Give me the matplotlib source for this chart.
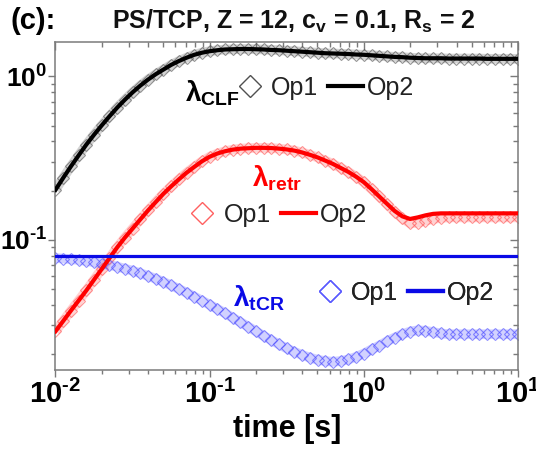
#!/usr/bin/env python3
# -*- coding: utf-8 -*-

import numpy as np
import matplotlib as mpl
import matplotlib.pyplot as plt
from matplotlib.lines import Line2D
from matplotlib.ticker import FuncFormatter, NullFormatter, LogLocator

mpl.rcParams['font.family'] = ['Liberation Sans', 'DejaVu Sans']
mpl.rcParams['mathtext.fontset'] = 'custom'
mpl.rcParams['mathtext.rm'] = 'Liberation Sans:bold'
mpl.rcParams['mathtext.it'] = 'Liberation Sans:italic'
mpl.rcParams['mathtext.bf'] = 'Liberation Sans:bold'

# time grid, 20 points per decade from 1e-2 s to 1e1 s
time = np.logspace(-2, 1, 61)

lam_clf = [0.202, 0.239, 0.281, 0.328, 0.382, 0.439, 0.501, 0.569, 0.643, 0.719,
           0.798, 0.877, 0.955, 1.03, 1.10, 1.175, 1.24, 1.30, 1.355, 1.395,
           1.425, 1.445, 1.46, 1.465, 1.47, 1.47, 1.465, 1.46, 1.45, 1.445,
           1.435, 1.425, 1.415, 1.405, 1.395, 1.385, 1.38, 1.375, 1.37, 1.36,
           1.355, 1.345, 1.335, 1.325, 1.315, 1.31, 1.30, 1.295, 1.29, 1.29,
           1.29, 1.285, 1.285, 1.285, 1.285, 1.285, 1.28, 1.28, 1.28, 1.28,
           1.28]

lam_retr_op1 = [0.0275, 0.0318, 0.0368, 0.0424, 0.0489, 0.0569, 0.0662, 0.0771, 0.0897, 0.103,
                0.117, 0.133, 0.151, 0.170, 0.191, 0.212, 0.234, 0.257, 0.279, 0.302,
                0.322, 0.337, 0.348, 0.356, 0.361, 0.363, 0.365, 0.365, 0.364, 0.361,
                0.357, 0.351, 0.342, 0.331, 0.319, 0.305, 0.291, 0.275, 0.260, 0.243,
                0.225, 0.204, 0.184, 0.165, 0.148, 0.135, 0.126, 0.127, 0.131, 0.134,
                0.136, 0.137, 0.137, 0.137, 0.137, 0.137, 0.137, 0.137, 0.137, 0.137,
                0.137]
lam_retr_op2 = [0.0275, 0.0318, 0.0368, 0.0424, 0.0489, 0.0569, 0.0662, 0.0771, 0.0897, 0.103,
                0.117, 0.133, 0.151, 0.170, 0.191, 0.212, 0.234, 0.257, 0.279, 0.302,
                0.322, 0.337, 0.348, 0.356, 0.361, 0.363, 0.365, 0.365, 0.364, 0.361,
                0.357, 0.351, 0.342, 0.331, 0.319, 0.305, 0.291, 0.275, 0.260, 0.243,
                0.225, 0.204, 0.184, 0.166, 0.150, 0.139, 0.134, 0.137, 0.141, 0.144,
                0.145, 0.145, 0.145, 0.145, 0.145, 0.145, 0.145, 0.145, 0.145, 0.145,
                0.145]

lam_tcr_op1 = [0.0773, 0.0767, 0.0760, 0.0752, 0.0741, 0.0729, 0.0714, 0.0700, 0.0684, 0.0665,
               0.0646, 0.0624, 0.0601, 0.0577, 0.0552, 0.0526, 0.0500, 0.0474, 0.0449, 0.0424,
               0.0400, 0.0377, 0.0355, 0.0333, 0.0313, 0.0294, 0.0275, 0.0258, 0.0243, 0.0229,
               0.0216, 0.0206, 0.0197, 0.0190, 0.0184, 0.0181, 0.0179, 0.0181, 0.0185, 0.0192,
               0.0201, 0.0213, 0.0225, 0.0239, 0.0252, 0.0264, 0.0274, 0.0279, 0.0277, 0.0272,
               0.0267, 0.0264, 0.0264, 0.0264, 0.0264, 0.0264, 0.0264, 0.0264, 0.0264, 0.0264,
               0.0264]
tcr_time_op2 = [1e-2, 1e1]
lam_tcr_op2 = [0.0791, 0.0791]


def add_key(ax, line_color, marker_color, anchor):
    h1 = Line2D([], [], ls='none', marker='D', ms=11, mfc='none',
                mec=marker_color, mew=1.0)
    h2 = Line2D([], [], color=line_color, lw=3)
    leg = ax.legend([h1, h2], ['Op1', 'Op2'], ncol=2, loc='center left',
                    bbox_to_anchor=anchor, frameon=False, fontsize=18,
                    handlelength=1.4, handletextpad=0.15, columnspacing=0.4,
                    borderpad=0, borderaxespad=0, labelcolor='#222222')
    ax.add_artist(leg)


def log_label(v, pos):
    e = int(round(np.log10(v)))
    if e < 0:
        return r'$\mathbf{10}^{\text{-}\mathbf{%d}}$' % -e
    return r'$\mathbf{10}^{\mathbf{%d}}$' % e


def main() -> None:
    fig = plt.figure(figsize=(5.36, 4.70), dpi=100)
    ax = fig.add_axes([0.1035, 0.2128, 0.8629, 0.6978])

    # Op1: dense open diamonds, drawn over a faint band
    for vals, c in ((lam_clf, '#505050'), (lam_retr_op1, '#ff5050'),
                    (lam_tcr_op1, '#4848ff')):
        ax.plot(time, vals, color=c, lw=7, alpha=0.25, solid_capstyle='butt')
        ax.plot(time, vals, ls='none', marker='D', ms=6, mfc='none',
                mec=c, mew=0.8, alpha=0.6)

    # Op2: solid lines
    ax.plot(time, lam_clf, color='black', lw=3, zorder=3)
    ax.plot(time, lam_retr_op2, color='#ff0000', lw=3, zorder=3)
    ax.plot(tcr_time_op2, lam_tcr_op2, color='#0a0ae6', lw=2.3, zorder=3)

    ax.set_xscale('log')
    ax.set_yscale('log')
    ax.set_xlim(1e-2, 1e1)
    ax.set_ylim(0.01595, 1.622)

    for a in (ax.xaxis, ax.yaxis):
        a.set_major_locator(LogLocator(base=10))
        a.set_major_formatter(FuncFormatter(log_label))
        a.set_minor_formatter(NullFormatter())

    edge = '#7a7a7a'
    for s in ax.spines.values():
        s.set_color(edge)
        s.set_linewidth(1.1)
    ax.tick_params(which='both', direction='out', color=edge, width=1.0,
                   labelsize=21, top=False, right=False)
    ax.tick_params(which='major', length=5, pad=2)
    ax.tick_params(which='minor', length=3)
    ax.tick_params(axis='y', labelsize=19, pad=1)

    top = ax.secondary_xaxis('top')
    right = ax.secondary_yaxis('right')
    for sec, axis in ((top, top.xaxis), (right, right.yaxis)):
        sec.tick_params(which='both', direction='in', color=edge, width=1.0)
        sec.tick_params(which='major', length=6)
        sec.tick_params(which='minor', length=3.5)
        axis.set_major_formatter(NullFormatter())
        axis.set_minor_formatter(NullFormatter())
        sec.spines[:].set_visible(False)

    ax.set_xlabel('time [s]', fontsize=22, fontweight='bold', labelpad=4)

    # keys
    add_key(ax, 'black', '#505050', (0.382, 0.860))
    add_key(ax, '#ff0000', '#ff6060', (0.280, 0.4726))
    add_key(ax, '#0a0ae6', '#5a5aff', (0.555, 0.2348))
    ax.text(0.399, 0.845, r'$\mathbf{\lambda}_{\mathbf{CLF}}$', transform=ax.transAxes,
            ha='right', va='center', fontsize=20, color='black')
    ax.text(0.479, 0.585, r'$\mathbf{\lambda}_{\mathbf{retr}}$', transform=ax.transAxes,
            ha='center', va='center', fontsize=20, color='#ff0000')
    ax.text(0.496, 0.2195, r'$\mathbf{\lambda}_{\mathbf{tCR}}$', transform=ax.transAxes,
            ha='right', va='center', fontsize=20, color='#0a0ae6')

    fig.text(0.019, 0.955, '(c):', fontsize=21, fontweight='bold', va='center')
    fig.text(0.209, 0.955, r'PS/TCP, Z = 12, c$_\mathbf{v}$ = 0.1, R$_\mathbf{s}$ = 2',
             fontsize=18, fontweight='bold', va='center', color='#111111')

    fig.savefig('out.png', dpi=100)


if __name__ == '__main__':
    main()
